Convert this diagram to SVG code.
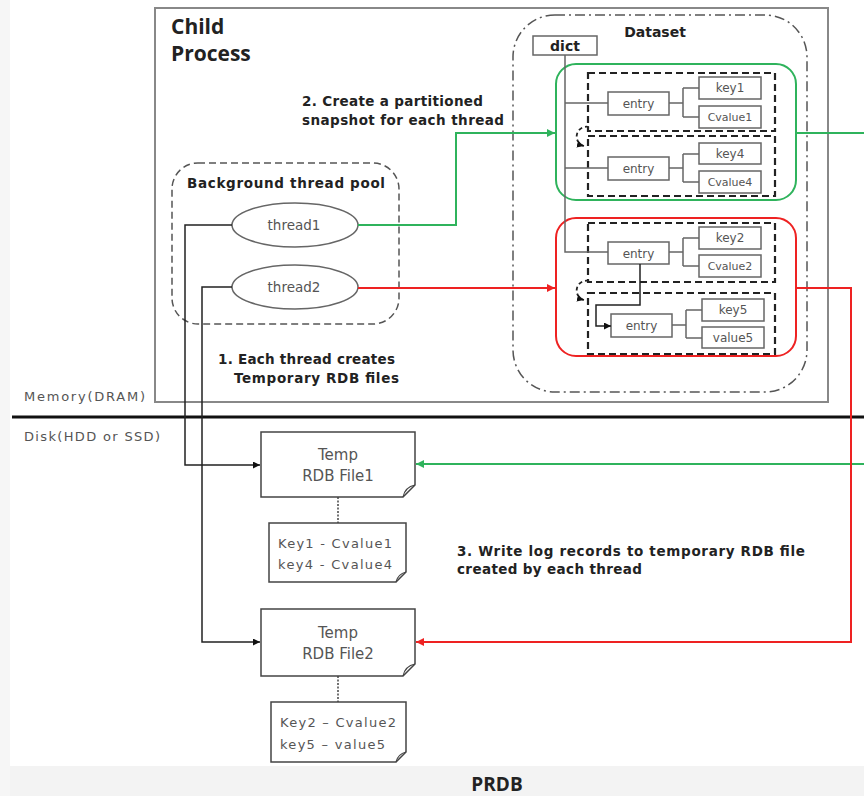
<svg xmlns="http://www.w3.org/2000/svg" width="864" height="796" viewBox="0 0 864 796">
  <defs>
    <style>
      .t { font-family: "DejaVu Sans", "Noto Sans", sans-serif; }
      .h { font-family: "Open Sans", "Noto Sans", sans-serif; }
      .b { font-weight: bold; fill: #222; }
      .n { fill: #555; }
      .box { fill: #fff; stroke: #666; stroke-width: 1.5; }
      .doc { fill: #fff; stroke: #444; stroke-width: 1.5; }
      .wire { fill: none; stroke: #666; stroke-width: 1.5; }
      .part { fill: none; stroke: #222; stroke-width: 2.2; stroke-dasharray: 7 4; }
      .blk { fill: none; stroke: #222; stroke-width: 1.5; }
    </style>
    <marker id="ah-k" viewBox="0 0 10 10" refX="10" refY="5" markerWidth="7" markerHeight="7" orient="auto" markerUnits="userSpaceOnUse">
      <path d="M0,0 L10,5 L0,10 Z" fill="#111"/>
    </marker>
    <marker id="ah-g" viewBox="0 0 10 10" refX="10" refY="5" markerWidth="8" markerHeight="8" orient="auto" markerUnits="userSpaceOnUse">
      <path d="M0,0 L10,5 L0,10 Z" fill="#2fb35c"/>
    </marker>
    <marker id="ah-r" viewBox="0 0 10 10" refX="10" refY="5" markerWidth="8" markerHeight="8" orient="auto" markerUnits="userSpaceOnUse">
      <path d="M0,0 L10,5 L0,10 Z" fill="#ee2222"/>
    </marker>
  </defs>

  <rect width="864" height="796" fill="#fff"/>
  <rect x="0" y="766" width="864" height="30" fill="#f3f3f3"/>
  <rect x="0" y="0" width="10" height="796" fill="#f6f6f6"/>

  <!-- Child process frame -->
  <g id="child-process">
    <rect x="155" y="8" width="673" height="394" fill="none" stroke="#888" stroke-width="2"/>
    <text class="h b" x="171" y="34" font-size="21">Child</text>
    <text class="h b" x="171" y="61" font-size="21">Process</text>
  </g>

  <!-- Memory / disk divider -->
  <g id="divider">
    <line x1="12" y1="417" x2="864" y2="417" stroke="#111" stroke-width="3"/>
    <text class="t n" x="24" y="401" font-size="13" textLength="121">Memory(DRAM)</text>
    <text class="t n" x="24" y="441" font-size="13" textLength="136">Disk(HDD or SSD)</text>
  </g>

  <!-- Dataset -->
  <g id="dataset">
    <rect x="513" y="15" width="294" height="377" rx="42" fill="none" stroke="#555" stroke-width="1.5" stroke-dasharray="10 4 2 4"/>
    <text class="t b" x="655" y="37" font-size="14" text-anchor="middle">Dataset</text>
  </g>

  <g id="dict">
    <rect class="box" x="533" y="36" width="64" height="19"/>
    <text class="t b" x="565" y="51" font-size="14" text-anchor="middle">dict</text>
  </g>

  <!-- Partition for thread1 -->
  <g id="partition-green">
    <rect x="556" y="64" width="240" height="136" rx="20" fill="none" stroke="#2fb35c" stroke-width="2"/>
    <rect class="part" x="588" y="73" width="187" height="58"/>
    <rect class="part" x="588" y="136" width="187" height="60"/>
    <path d="M589,127 A8,8 0 1 0 584,146" fill="none" stroke="#222" stroke-width="1.8" stroke-dasharray="4 3" marker-end="url(#ah-k)"/>
  </g>

  <!-- Partition for thread2 -->
  <g id="partition-red">
    <rect x="556" y="218" width="240" height="138" rx="20" fill="none" stroke="#ee2222" stroke-width="2"/>
    <rect class="part" x="588" y="223" width="187" height="59"/>
    <rect class="part" x="588" y="293" width="187" height="61"/>
    <path d="M589,281 A8,8 0 1 0 584,300" fill="none" stroke="#222" stroke-width="1.8" stroke-dasharray="4 3" marker-end="url(#ah-k)"/>
  </g>

  <!-- dict entries -->
  <g id="entry1">
    <rect class="box" x="608" y="92" width="61" height="23"/>
    <text class="t n" x="638.5" y="108" font-size="12" text-anchor="middle">entry</text>
  </g>
  <g id="key1">
    <rect class="box" x="699" y="77" width="62" height="22"/>
    <text class="t n" x="730" y="92" font-size="12" text-anchor="middle">key1</text>
  </g>
  <g id="cvalue1">
    <rect class="box" x="699" y="106" width="62" height="22"/>
    <text class="t n" x="730" y="121" font-size="11" text-anchor="middle">Cvalue1</text>
  </g>

  <g id="entry4">
    <rect class="box" x="608" y="157" width="61" height="23"/>
    <text class="t n" x="638.5" y="173" font-size="12" text-anchor="middle">entry</text>
  </g>
  <g id="key4">
    <rect class="box" x="699" y="143" width="62" height="21"/>
    <text class="t n" x="730" y="158" font-size="12" text-anchor="middle">key4</text>
  </g>
  <g id="cvalue4">
    <rect class="box" x="699" y="171" width="62" height="22"/>
    <text class="t n" x="730" y="186" font-size="11" text-anchor="middle">Cvalue4</text>
  </g>

  <g id="entry2">
    <rect class="box" x="608" y="242" width="61" height="22"/>
    <text class="t n" x="638.5" y="258" font-size="12" text-anchor="middle">entry</text>
  </g>
  <g id="key2">
    <rect class="box" x="699" y="227" width="62" height="22"/>
    <text class="t n" x="730" y="242" font-size="12" text-anchor="middle">key2</text>
  </g>
  <g id="cvalue2">
    <rect class="box" x="699" y="255" width="62" height="22"/>
    <text class="t n" x="730" y="270" font-size="11" text-anchor="middle">Cvalue2</text>
  </g>

  <g id="entry5">
    <rect class="box" x="611" y="314" width="61" height="23"/>
    <text class="t n" x="641.5" y="330" font-size="12" text-anchor="middle">entry</text>
  </g>
  <g id="key5">
    <rect class="box" x="702" y="299" width="62" height="22"/>
    <text class="t n" x="733" y="314" font-size="12" text-anchor="middle">key5</text>
  </g>
  <g id="value5">
    <rect class="box" x="702" y="327" width="62" height="21"/>
    <text class="t n" x="733" y="342" font-size="12" text-anchor="middle">value5</text>
  </g>

  <!-- Thread pool -->
  <g id="thread-pool">
    <rect x="172" y="163" width="227" height="161" rx="26" fill="none" stroke="#555" stroke-width="1.5" stroke-dasharray="7 4"/>
    <text class="t b" x="187" y="188" font-size="13.5" textLength="198">Background thread pool</text>
  </g>
  <g id="thread1">
    <ellipse cx="295" cy="225" rx="63" ry="22" fill="#fff" stroke="#666" stroke-width="1.5"/>
    <text class="t n" x="294" y="230" font-size="13.5" text-anchor="middle">thread1</text>
  </g>
  <g id="thread2">
    <ellipse cx="295" cy="287" rx="63" ry="22" fill="#fff" stroke="#666" stroke-width="1.5"/>
    <text class="t n" x="294" y="292" font-size="13.5" text-anchor="middle">thread2</text>
  </g>

  <!-- Step labels -->
  <g id="labels">
    <text class="t b" x="302" y="106" font-size="13.5" textLength="181">2. Create a partitioned</text>
    <text class="t b" x="302" y="125" font-size="13.5" textLength="202">snapshot for each thread</text>
    <text class="t b" x="218" y="364" font-size="13.5" textLength="177">1. Each thread creates</text>
    <text class="t b" x="234" y="383" font-size="13.5" textLength="165">Temporary RDB files</text>
    <text class="t b" x="457" y="556" font-size="13.5" textLength="348">3. Write log records to temporary RDB file</text>
    <text class="t b" x="457" y="574" font-size="13.5" textLength="185">created by each thread</text>
    <text class="h b" x="497" y="791" font-size="19" text-anchor="middle">PRDB</text>
  </g>

  <!-- Temp RDB files -->
  <g id="rdb-file1">
    <path class="doc" d="M261,432 H415 V485 L403,497 H261 Z"/>
    <path d="M403,497 Q405,487 415,485" fill="none" stroke="#444" stroke-width="1.2"/>
    <text class="t n" x="338" y="460" font-size="15" text-anchor="middle">Temp</text>
    <text class="t n" x="338" y="481" font-size="15" text-anchor="middle">RDB File1</text>
  </g>
  <g id="records1">
    <path class="doc" d="M269,523 H406 V572 L396,582 H269 Z"/>
    <path d="M396,582 Q398,574 406,572" fill="none" stroke="#444" stroke-width="1.2"/>
    <text class="t n" x="278" y="548" font-size="13" textLength="114">Key1 - Cvalue1</text>
    <text class="t n" x="278" y="569" font-size="13" textLength="114">key4 - Cvalue4</text>
  </g>
  <g id="rdb-file2">
    <path class="doc" d="M261,609 H415 V664 L403,676 H261 Z"/>
    <path d="M403,676 Q405,666 415,664" fill="none" stroke="#444" stroke-width="1.2"/>
    <text class="t n" x="338" y="638" font-size="15" text-anchor="middle">Temp</text>
    <text class="t n" x="338" y="659" font-size="15" text-anchor="middle">RDB File2</text>
  </g>
  <g id="records2">
    <path class="doc" d="M271,702 H406 V752 L396,762 H271 Z"/>
    <path d="M396,762 Q398,754 406,752" fill="none" stroke="#444" stroke-width="1.2"/>
    <text class="t n" x="280" y="727" font-size="13" textLength="116">Key2 – Cvalue2</text>
    <text class="t n" x="280" y="749" font-size="13" textLength="105">key5 – value5</text>
  </g>

  <!-- Connectors -->
  <g id="connectors">
    <!-- dict chains -->
    <path class="wire" d="M565,55 V252 H608"/>
    <path class="wire" d="M565,103 H608"/>
    <path class="wire" d="M565,168 H608"/>
    <path class="wire" d="M669,103 H683 M683,88 V117 M683,88 H699 M683,117 H699"/>
    <path class="wire" d="M669,168 H683 M683,154 V182 M683,154 H699 M683,182 H699"/>
    <path class="wire" d="M669,252 H683 M683,238 V266 M683,238 H699 M683,266 H699"/>
    <path class="wire" d="M672,325 H686 M686,310 V338 M686,310 H702 M686,338 H702"/>
    <path class="blk" d="M640,264 V305 H596 V326 H611" marker-end="url(#ah-k)"/>

    <!-- threads to temp files -->
    <path class="blk" d="M232,225 H185 V465 H260" marker-end="url(#ah-k)"/>
    <path class="blk" d="M232,287 H202 V642 H260" marker-end="url(#ah-k)"/>

    <!-- snapshot links -->
    <path d="M358,225 H456 V133 H555" fill="none" stroke="#2fb35c" stroke-width="2" marker-end="url(#ah-g)"/>
    <path d="M358,288 H555" fill="none" stroke="#ee2222" stroke-width="2" marker-end="url(#ah-r)"/>

    <!-- write-back links -->
    <path d="M796,133 H864" fill="none" stroke="#2fb35c" stroke-width="2"/>
    <path d="M864,464 H416" fill="none" stroke="#2fb35c" stroke-width="2" marker-end="url(#ah-g)"/>
    <path d="M796,288 H851 V642 H416" fill="none" stroke="#ee2222" stroke-width="2" marker-end="url(#ah-r)"/>

    <!-- file to record links -->
    <line x1="338" y1="497" x2="338" y2="523" stroke="#444" stroke-width="1.5" stroke-dasharray="2 1.5"/>
    <line x1="338" y1="676" x2="338" y2="702" stroke="#444" stroke-width="1.5" stroke-dasharray="2 1.5"/>
  </g>
</svg>
